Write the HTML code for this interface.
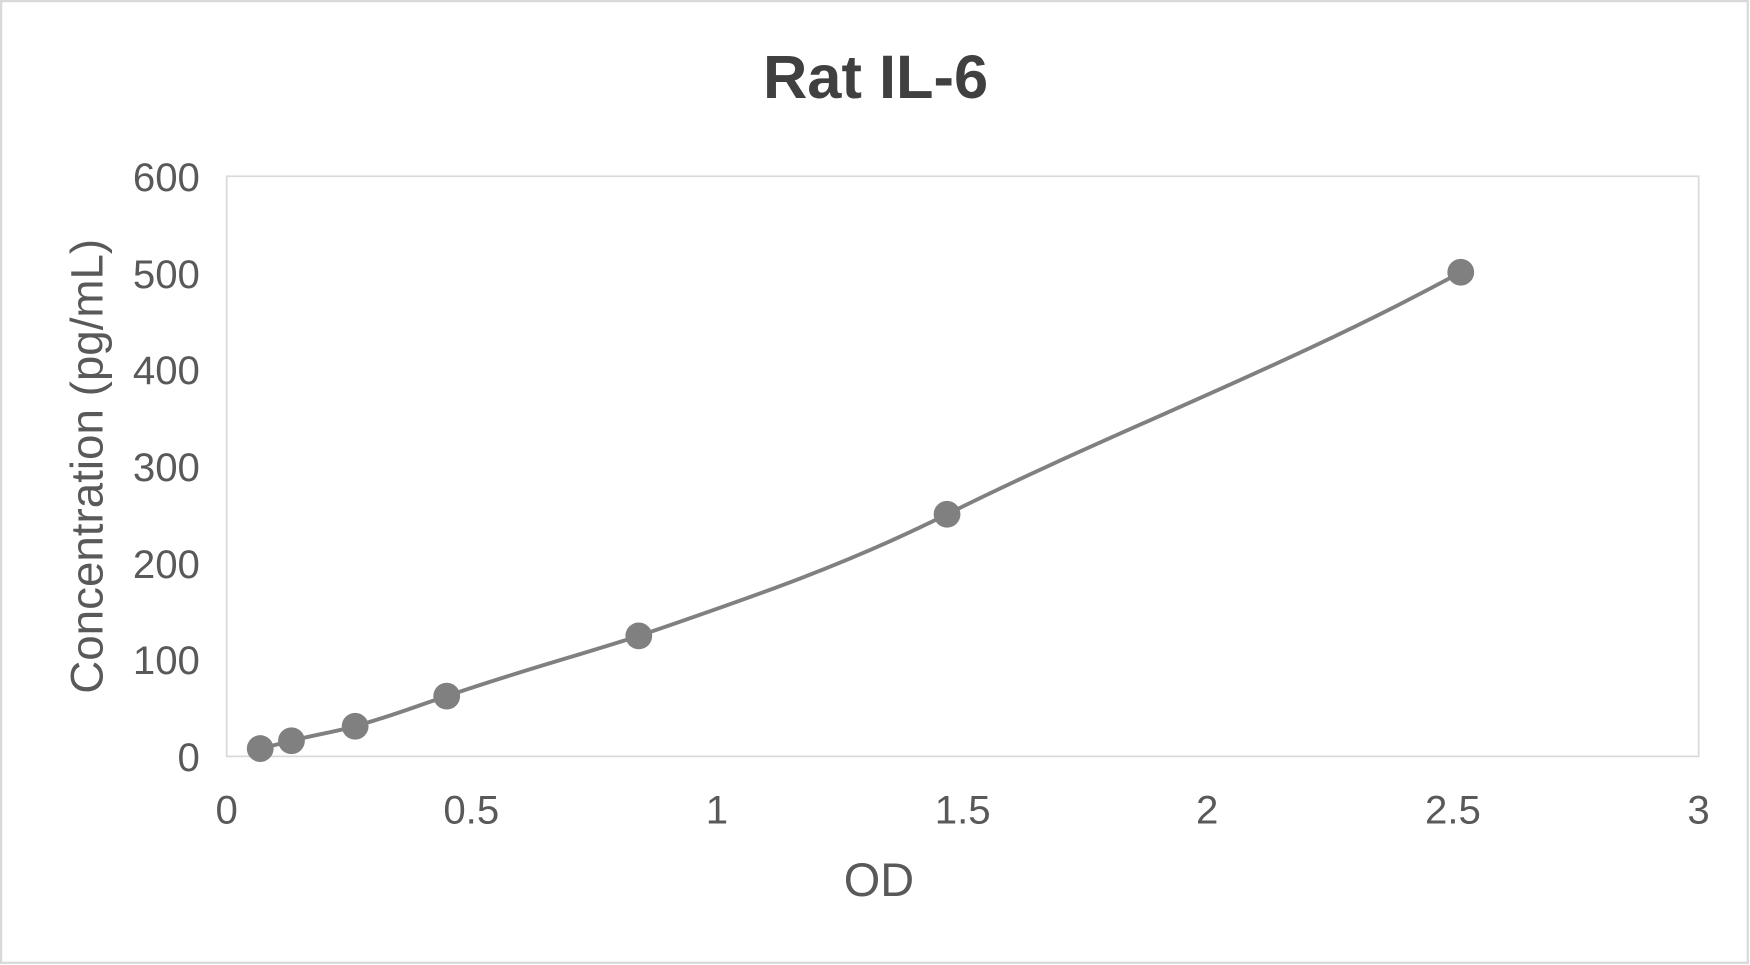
<!DOCTYPE html>
<html><head><meta charset="utf-8"><style>html,body{margin:0;padding:0;background:#fff}svg{display:block}</style></head>
<body>
<svg width="1750" height="965" viewBox="0 0 1567 865" preserveAspectRatio="none" xmlns="http://www.w3.org/2000/svg" font-family="Liberation Sans, Arial, sans-serif">
<rect x="0" y="0" width="1567" height="865" fill="#fff"/>
<rect x="1" y="1" width="1564" height="862" fill="none" stroke="#d9d9d9" stroke-width="2"/>
<text x="784" y="88" text-anchor="middle" font-size="55" font-weight="bold" fill="#404040">Rat IL-6</text>
<rect x="203" y="158" width="1318" height="520" fill="none" stroke="#d9d9d9" stroke-width="1.5"/>
<g font-size="36" fill="#595959" text-anchor="end">
<text x="179" y="691">0</text>
<text x="179" y="604">100</text>
<text x="179" y="518">200</text>
<text x="179" y="431">300</text>
<text x="179" y="344">400</text>
<text x="179" y="258">500</text>
<text x="179" y="171">600</text>
</g>
<g font-size="36" fill="#595959" text-anchor="middle">
<text x="203" y="738">0</text>
<text x="422" y="738">0.5</text>
<text x="642" y="738">1</text>
<text x="862" y="738">1.5</text>
<text x="1081" y="738">2</text>
<text x="1301" y="738">2.5</text>
<text x="1521" y="738">3</text>
<text x="787" y="803" font-size="42">OD</text>
<text transform="translate(92,418) rotate(-90)" font-size="41">Concentration (pg/mL)</text>
</g>
<path d="M233,671 C245,668 250,667 261,664 C285,658 300,656 318,651 C350,642 370,634 400,624 C470,600 510,590 572,570 C680,533 760,505 848,461 C1000,385 1150,330 1308,244" fill="none" stroke="#808080" stroke-width="3.5"/>
<g fill="#808080">
<circle cx="233" cy="671" r="12"/>
<circle cx="261" cy="664" r="12"/>
<circle cx="318" cy="651" r="12"/>
<circle cx="400" cy="624" r="12"/>
<circle cx="572" cy="570" r="12"/>
<circle cx="848" cy="461" r="12"/>
<circle cx="1308" cy="244" r="12"/>
</g>
</svg>
</body></html>
